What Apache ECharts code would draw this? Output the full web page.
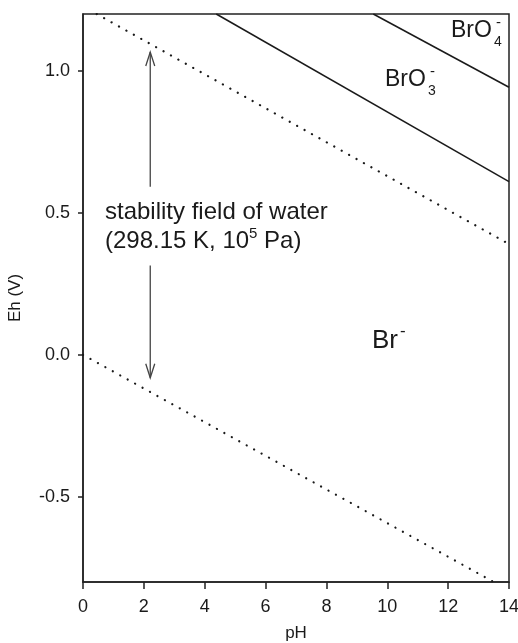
<!DOCTYPE html>
<html>
<head>
<meta charset="utf-8">
<script src="https://cdn.jsdelivr.net/npm/echarts@6/dist/echarts.min.js"></script>
<style>
html,body{margin:0;padding:0;background:#fff;}
#chart{width:518px;height:643px;}
</style>
</head>
<body>
<div id="chart"></div>
<script>
// ---- data ----
const xTicks = [0, 2, 4, 6, 8, 10, 12, 14];
const yTicks = [-0.5, 0.0, 0.5, 1.0];
const waterUpper = [[0.45, 1.2], [14, 0.39]];     // O2/H2O boundary
const waterLower = [[0, 0.0], [13.5, -0.8]];      // H2O/H2 boundary
const bro3Line   = [[4.38, 1.2], [14, 0.61]];     // BrO3-/Br- boundary
const bro4Line   = [[9.54, 1.2], [14, 0.942]];    // BrO4-/BrO3- boundary
// arrow segments: [pH, tip Eh, tail Eh]
const arrowSegs  = [[2.21, 1.066, 0.592], [2.21, -0.081, 0.314]];

const FONT = '"Liberation Sans", Arial, Helvetica, sans-serif';
const dark = '#1a1a1a';

const chart = echarts.init(document.getElementById('chart'), null, {renderer: 'canvas'});

const dotted = {color: dark, width: 2.2, type: [0.1, 8.4], cap: 'round'};
const solid = {color: dark, width: 1.5};

const option = {
  animation: false,
  backgroundColor: '#fff',
  grid: {left: 83, right: 9, top: 14, bottom: 61, show: true, borderColor: '#222', borderWidth: 1.5,
    backgroundColor: 'transparent', containLabel: false, outerBoundsMode: 'none'},
  xAxis: {
    type: 'value', min: 0, max: 14, interval: 2,
    name: 'pH', nameLocation: 'middle', nameGap: 43,
    nameTextStyle: {fontFamily: FONT, fontSize: 17, color: dark},
    axisLine: {show: true, onZero: false, lineStyle: {color: '#222', width: 1.5}},
    axisTick: {show: true, inside: false, length: 7, lineStyle: {color: '#222', width: 1.5}, customValues: xTicks},
    axisLabel: {fontFamily: FONT, fontSize: 18, color: dark, margin: 16, customValues: xTicks},
    splitLine: {show: false}
  },
  yAxis: {
    type: 'value', min: -0.8, max: 1.2,
    name: 'Eh (V)', nameLocation: 'middle', nameGap: 59, nameRotate: 90,
    nameTextStyle: {fontFamily: FONT, fontSize: 17, color: dark},
    axisLine: {show: true, onZero: false, lineStyle: {color: '#222', width: 1.5}},
    axisTick: {show: true, inside: false, length: 5, lineStyle: {color: '#222', width: 1.5}, customValues: yTicks},
    axisLabel: {fontFamily: FONT, fontSize: 18, color: dark, margin: 13, customValues: yTicks,
      formatter: v => v.toFixed(1)},
    splitLine: {show: false}
  },
  series: [
    {type: 'line', data: waterUpper, symbol: 'none', lineStyle: dotted, silent: true},
    {type: 'line', data: waterLower, symbol: 'none', lineStyle: dotted, silent: true},
    {type: 'line', data: bro3Line, symbol: 'none', lineStyle: solid, silent: true},
    {type: 'line', data: bro4Line, symbol: 'none', lineStyle: solid, silent: true},
    {
      type: 'custom', data: arrowSegs, silent: true,
      renderItem: function (params, api) {
        const x = api.value(0), y1 = api.value(1), y2 = api.value(2);
        const p1 = api.coord([x, y1]), p2 = api.coord([x, y2]);
        const dir = p2[1] > p1[1] ? 1 : -1;
        const st = {stroke: '#444', lineWidth: 1.3, fill: 'none'};
        return {
          type: 'group',
          children: [
            {type: 'line', shape: {x1: p1[0], y1: p1[1], x2: p2[0], y2: p2[1]}, style: st},
            {type: 'polyline', shape: {points: [[p1[0] - 4.5, p1[1] + 14 * dir], [p1[0], p1[1]], [p1[0] + 4.5, p1[1] + 14 * dir]]}, style: st}
          ]
        };
      }
    }
  ]
};
chart.setOption(option);

// ---- text annotations ----
function txt(text, x, y, size, extra) {
  return Object.assign({
    type: 'text', x: x, y: y, silent: true, z: 10,
    style: {text: text, fontFamily: FONT, fontSize: size, fill: dark, verticalAlign: 'middle', align: 'left'}
  }, extra || {});
}
const g = [
  txt('BrO', 451, 31, 23), txt('4', 494, 42, 14), txt('-', 496, 23, 15),
  txt('BrO', 385, 80, 23), txt('3', 428, 91, 14), txt('-', 430, 72, 15),
  txt('Br', 372, 341, 26), txt('-', 400, 331, 17),
  txt('stability field of water', 105, 212, 24),
  {
    type: 'text', x: 105, y: 241, silent: true, z: 10,
    style: {
      text: '(298.15 K, 10{sup|5} Pa)', fontFamily: FONT, fontSize: 24, fill: dark,
      verticalAlign: 'middle', align: 'left', lineHeight: 30,
      rich: {sup: {fontFamily: FONT, fontSize: 15, fill: dark, verticalAlign: 'top', lineHeight: 15}}
    }
  }
];
chart.setOption({graphic: g});
</script>
</body>
</html>
